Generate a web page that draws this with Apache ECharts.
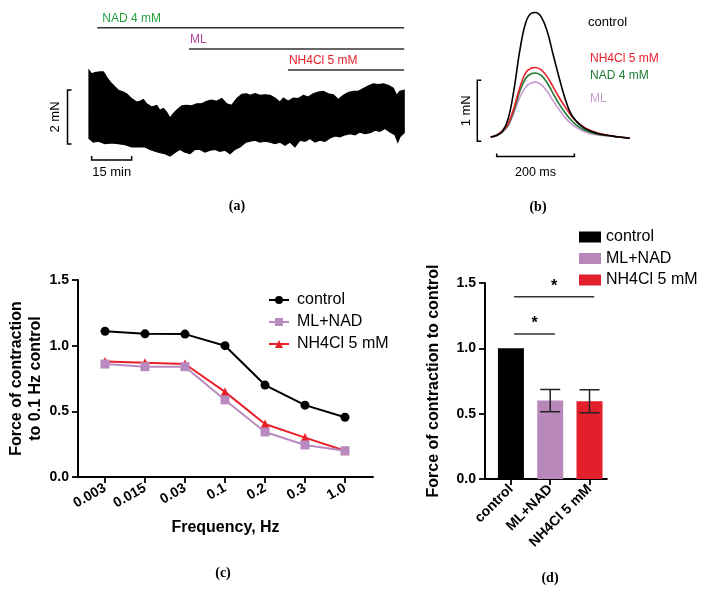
<!DOCTYPE html>
<html><head><meta charset="utf-8">
<script src="https://cdn.jsdelivr.net/npm/echarts@6/dist/echarts.min.js"></script>
<style>html,body{margin:0;padding:0;background:#fff}#c{width:712px;height:591px}</style>
</head><body><div id="c"></div>
<script>
// ---------- Panel (a): long recording, envelope of the contraction trace (min, mN)
const traceTopT = [0,1.0,2.25,4.1,5.4,6.6,7.9,9.75,11.0,12.9,14.1,16.0,17.9,19.1,20.4,21.6,23.5,25.4,26.6,27.9,29.1,30.4,31.6,32.9,34.8,36.6,38.5,40.4,42.3,44.1,46.0,47.9,49.8,51.6,53.5,55.4,57.3,59.1,60.4,62.3,64.1,66.0,67.9,69.75,71.6,72.9,74.7,76.6,78.5,80.4,82.2,84.1,86.0,87.9,89.7,91.6,93.5,95.4,97.2,99.1,101.0,102.9,104.7,106.6,108.5,110.4,112.2,114.1,115.4,116.6,118.2];
const traceTopF = [3.62,3.49,3.53,3.56,3.56,3.37,3.19,3.0,2.88,2.81,2.75,2.57,2.44,2.47,2.54,2.38,2.26,2.32,2.14,2.20,2.07,1.85,2.01,2.14,2.30,2.32,2.30,2.38,2.38,2.47,2.51,2.47,2.57,2.38,2.32,2.57,2.73,2.75,2.69,2.75,2.69,2.71,2.69,2.59,2.44,2.59,2.47,2.59,2.57,2.69,2.63,2.75,2.81,2.84,2.75,2.71,2.54,2.69,2.79,2.84,2.84,2.94,3.04,3.12,3.09,3.12,3.06,2.96,2.69,2.84,2.88];
const traceBotT = [0,1.6,3.5,6.0,8.5,11.0,13.5,16.0,18.5,21.0,22.9,24.75,26.6,28.5,30.4,32.25,34.1,36.0,37.9,39.75,41.6,43.5,45.4,47.25,49.1,51.0,52.9,54.75,56.6,58.9,60.4,62.25,64.1,66.0,67.9,69.75,71.6,73.5,75.4,77.25,79.1,81.0,82.9,84.75,86.6,88.5,90.4,92.25,94.1,96.0,97.9,99.75,101.6,103.5,105.4,107.25,109.1,111.0,112.9,114.75,115.8,116.6,118.2];
const traceBotF = [1.09,0.96,0.99,0.90,0.93,0.90,0.86,0.78,0.78,0.78,0.69,0.62,0.57,0.53,0.44,0.57,0.69,0.59,0.53,0.69,0.69,0.59,0.66,0.69,0.62,0.66,0.53,0.69,0.78,0.96,0.99,1.03,0.96,0.99,0.96,0.90,0.96,0.84,0.96,0.78,1.03,0.99,1.09,0.96,1.03,0.99,1.11,1.19,1.15,1.23,1.27,1.23,1.33,1.27,1.31,1.40,1.36,1.46,1.33,1.23,0.96,1.15,1.31];
const treatmentNames = ['NAD 4 mM','ML','NH4Cl 5 mM'];
const treatmentStart = [3.1, 37.5, 74.6];
const treatmentEnd = 118.2;
const scaleA = [2, 15];          // 2 mN, 15 min

// ---------- Panel (b): averaged twitches (ms, mN)
const twitchT = [0,15,30,45,60,75,90,105,115,130,145,160,175,190,205,220,240,260,280,300,330,358];
const twitchControl = [0,0.03,0.09,0.30,0.78,1.42,1.87,2.03,2.04,1.97,1.74,1.37,1.0,0.66,0.40,0.26,0.15,0.09,0.05,0.03,0.0,-0.02];
const twitchNH4 = [0,0.03,0.10,0.22,0.48,0.81,1.05,1.13,1.14,1.10,0.99,0.83,0.66,0.51,0.37,0.26,0.16,0.10,0.055,0.03,0.0,-0.02];
const twitchNAD = [0,0.02,0.09,0.20,0.44,0.75,0.96,1.04,1.05,1.01,0.89,0.72,0.55,0.41,0.29,0.20,0.12,0.07,0.04,0.02,0.0,-0.02];
const twitchML = [0,0.02,0.08,0.18,0.40,0.65,0.82,0.89,0.90,0.86,0.75,0.60,0.46,0.33,0.23,0.16,0.09,0.05,0.03,0.02,0.0,-0.02];
const scaleB = [1, 200];         // 1 mN, 200 ms

// ---------- Panel (c): force-frequency
const freqLabels = ['0.003','0.015','0.03','0.1','0.2','0.3','1.0'];
const ffControl = [1.11,1.09,1.088,1.0,0.70,0.547,0.455];
const ffMLNAD = [0.86,0.84,0.84,0.587,0.343,0.244,0.20];
const ffNH4 = [0.88,0.87,0.86,0.648,0.404,0.30,0.20];

// ---------- Panel (d): bars
const barCats = ['control','ML+NAD','NH4Cl 5 mM'];
const barMean = [1.0, 0.60, 0.595];
const barErr = [0, 0.085, 0.088];
const sigPairs = [[0,2],[0,1]];

const FONT = 'Liberation Sans, Arial, sans-serif';
const C_GREEN_A = '#26a040', C_MAG_A = '#b8409e', C_RED = '#e8202a';
const C_GREEN_B = '#1f7a34', C_PURP_B = '#c89ad2', C_LILAC = '#b98abf', C_BAR_RED = '#e21f2b';

const chart = echarts.init(document.getElementById('c'), null, {renderer:'canvas'});
const zip = (a,b) => a.map((v,i)=>[v,b[i]]);
const idx = freqLabels.map((_,i)=>i);

function axisCommon(){
  return {
    axisLine:{show:true, onZero:false, lineStyle:{color:'#000', width:2}},
    axisTick:{show:true, length:6, lineStyle:{color:'#000', width:1.8}},
    splitLine:{show:false}
  };
}

const option = {
  animation:false,
  textStyle:{fontFamily:FONT},
  grid:[
    {left:57, top:10, width:347.7, height:158},
    {left:475.16, top:8.9, width:155.4, height:158.6},
    {left:78, top:280, width:295, height:197},
    {left:485, top:283, width:121.8, height:196}
  ],
  xAxis:[
    {gridIndex:0, type:'value', min:-12, max:118.4, show:false},
    {gridIndex:1, type:'value', min:-40, max:360, show:false},
    Object.assign(axisCommon(), {gridIndex:2, type:'value', min:-0.675, max:6.7,
      axisTick:{show:true, length:6, customValues:idx, lineStyle:{color:'#000', width:1.8}},
      axisLabel:{customValues:idx, rotate:30, margin:10, color:'#000', fontWeight:'bold', fontSize:14,
        formatter:v=>freqLabels[Math.round(v)]},
      name:'Frequency, Hz', nameLocation:'middle', nameGap:43,
      nameTextStyle:{color:'#000', fontWeight:'bold', fontSize:16}}),
    Object.assign(axisCommon(), {gridIndex:3, type:'value', min:-0.66, max:2.44,
      axisTick:{show:true, length:6, customValues:[0,1,2], lineStyle:{color:'#000', width:1.8}},
      axisLabel:{customValues:[0,1,2], rotate:45, margin:8, color:'#000', fontWeight:'bold', fontSize:14,
        formatter:v=>barCats[Math.round(v)]}})
  ],
  yAxis:[
    {gridIndex:0, type:'value', min:0, max:5.852, show:false},
    {gridIndex:1, type:'value', min:-0.5, max:2.1, show:false},
    Object.assign(axisCommon(), {gridIndex:2, type:'value', min:0, max:1.5, interval:0.5,
      axisLabel:{color:'#000', fontWeight:'bold', fontSize:14, margin:9, formatter:v=>v.toFixed(1)},
      name:'Force of contraction\nto 0.1 Hz control', nameLocation:'middle', nameGap:33,
      nameTextStyle:{color:'#000', fontWeight:'bold', fontSize:16, lineHeight:19}}),
    Object.assign(axisCommon(), {gridIndex:3, type:'value', min:0, max:1.5, interval:0.5,
      axisLabel:{color:'#000', fontWeight:'bold', fontSize:14, margin:9, formatter:v=>v.toFixed(1)},
      name:'Force of contraction to control', nameLocation:'middle', nameGap:43,
      nameTextStyle:{color:'#000', fontWeight:'bold', fontSize:16}})
  ],
  legend:[
    {data:['control','ML+NAD','NH4Cl 5 mM'], orient:'vertical', left:263, top:287,
      itemWidth:20, itemHeight:10, itemGap:6, selectedMode:false,
      textStyle:{fontSize:16, color:'#000', padding:[0,0,0,3]}},
    {data:barCats.map(n=>'d:'+n), formatter:n=>n.slice(2), icon:'rect', orient:'vertical', left:574, top:224,
      itemWidth:22, itemHeight:11, itemGap:5.5, selectedMode:false,
      textStyle:{fontSize:16, color:'#000', padding:[0,0,0,0]}}
  ],
  series:[
    // ---- (a) trace band drawn as one polygon through the axis scales
    {type:'custom', xAxisIndex:0, yAxisIndex:0, z:2, silent:true, data:[[0,0]],
      renderItem:(params, api)=>{
        const top = traceTopT.map((t,i)=>api.coord([t, traceTopF[i]]));
        const bot = traceBotT.map((t,i)=>api.coord([t, traceBotF[i]])).reverse();
        return {type:'polygon', shape:{points:top.concat(bot)}, style:{fill:'#000', stroke:'#000', lineWidth:1.2}};
      }},
    {type:'custom', xAxisIndex:0, yAxisIndex:0, z:6, silent:true,
      data:treatmentStart.map((s,i)=>[s, treatmentEnd, i]),
      renderItem:(params, api)=>{
        const i = api.value(2);
        const level = 5.19 - i*0.78;
        const p0 = api.coord([api.value(0), level]), p1 = api.coord([api.value(1), level]);
        const cols = [C_GREEN_A, C_MAG_A, C_RED];
        return {type:'group', children:[
          {type:'line', shape:{x1:p0[0], y1:p0[1], x2:p1[0], y2:p1[1]}, style:{stroke:'#333', lineWidth:1.5}},
          {type:'text', x:p0[0] + (i===0?5:1), y:p0[1]-3, style:{text:treatmentNames[i], fill:cols[i],
            font:'12px '+FONT, align:'left', verticalAlign:'bottom'}}
        ]};
      }},
    {type:'custom', xAxisIndex:0, yAxisIndex:0, z:6, silent:true, data:[scaleA],
      renderItem:(params, api)=>{
        const mn = api.value(0), mins = api.value(1);
        const v0 = api.coord([-8.06, 0.89]), v1 = api.coord([-8.06, 0.89+mn]);
        const h0 = api.coord([1.0, 0.30]), h1 = api.coord([1.0+mins, 0.30]);
        const st = {stroke:'#000', lineWidth:1.5, fill:null};
        return {type:'group', children:[
          {type:'polyline', shape:{points:[[v1[0]+4,v1[1]],[v1[0],v1[1]],[v0[0],v0[1]],[v0[0]+4,v0[1]]]}, style:st},
          {type:'polyline', shape:{points:[[h0[0],h0[1]-4],[h0[0],h0[1]],[h1[0],h1[1]],[h1[0],h1[1]-4]]}, style:st},
          {type:'text', x:v0[0]-12.5, y:(v0[1]+v1[1])/2, rotation:Math.PI/2,
            style:{text:mn+' mN', fill:'#000', font:'13px '+FONT, align:'center', verticalAlign:'middle'}},
          {type:'text', x:(h0[0]+h1[0])/2, y:h0[1]+13, style:{text:mins+' min', fill:'#000', font:'13px '+FONT, align:'center', verticalAlign:'middle'}}
        ]};
      }},
    // ---- (b)
    {type:'line', xAxisIndex:1, yAxisIndex:1, data:zip(twitchT, twitchML), symbol:'none', smooth:0.4, z:2,
      lineStyle:{color:C_PURP_B, width:1.6}},
    {type:'line', xAxisIndex:1, yAxisIndex:1, data:zip(twitchT, twitchNAD), symbol:'none', smooth:0.4, z:3,
      lineStyle:{color:C_GREEN_B, width:1.6}},
    {type:'line', xAxisIndex:1, yAxisIndex:1, data:zip(twitchT, twitchNH4), symbol:'none', smooth:0.4, z:4,
      lineStyle:{color:C_RED, width:1.6}},
    {type:'line', xAxisIndex:1, yAxisIndex:1, data:zip(twitchT, twitchControl), symbol:'none', smooth:0.4, z:5,
      lineStyle:{color:'#000', width:1.6}},
    {type:'custom', xAxisIndex:1, yAxisIndex:1, z:6, silent:true, data:[scaleB],
      renderItem:(params, api)=>{
        const mn = api.value(0), ms = api.value(1);
        const v0 = api.coord([-34.5, -0.07]), v1 = api.coord([-34.5, -0.07+mn]);
        const h0 = api.coord([15.4, -0.32]), h1 = api.coord([15.4+ms, -0.32]);
        const st = {stroke:'#000', lineWidth:1.5, fill:null};
        return {type:'group', children:[
          {type:'polyline', shape:{points:[[v1[0]+4,v1[1]],[v1[0],v1[1]],[v0[0],v0[1]],[v0[0]+4,v0[1]]]}, style:st},
          {type:'polyline', shape:{points:[[h0[0],h0[1]-3],[h0[0],h0[1]],[h1[0],h1[1]],[h1[0],h1[1]-3]]}, style:st},
          {type:'text', x:v0[0]-10.5, y:(v0[1]+v1[1])/2, rotation:Math.PI/2,
            style:{text:mn+' mN', fill:'#000', font:'13px '+FONT, align:'center', verticalAlign:'middle'}},
          {type:'text', x:(h0[0]+h1[0])/2, y:h0[1]+16, style:{text:ms+' ms', fill:'#000', font:'12.5px '+FONT, align:'center', verticalAlign:'middle'}}
        ]};
      }},
    // ---- (c)
    {name:'control', type:'line', xAxisIndex:2, yAxisIndex:2, data:zip(idx, ffControl), z:5,
      symbol:'circle', symbolSize:9, lineStyle:{color:'#000', width:2}, itemStyle:{color:'#000'}},
    {name:'NH4Cl 5 mM', type:'line', xAxisIndex:2, yAxisIndex:2, data:zip(idx, ffNH4), z:3,
      symbol:'triangle', symbolSize:9, lineStyle:{color:C_RED, width:2}, itemStyle:{color:C_RED}},
    {name:'ML+NAD', type:'line', xAxisIndex:2, yAxisIndex:2, data:zip(idx, ffMLNAD), z:4,
      symbol:'rect', symbolSize:9, lineStyle:{color:C_LILAC, width:2}, itemStyle:{color:C_LILAC}},
    // ---- (d)
    ...barCats.map((n,i)=>({name:'d:'+n, type:'bar', xAxisIndex:3, yAxisIndex:3, barWidth:26, barGap:'-100%',
      data:[[i, barMean[i]]], itemStyle:{color:['#000', '#b988bb', C_BAR_RED][i]}})),
    {type:'custom', xAxisIndex:3, yAxisIndex:3, z:10, silent:true,
      data:barMean.map((m,i)=>[i, m-barErr[i], m+barErr[i]]).filter((d,i)=>barErr[i]>0),
      renderItem:(params, api)=>{
        const x = api.value(0);
        const lo = api.coord([x, api.value(1)]), hi = api.coord([x, api.value(2)]);
        const w = 10, st = {stroke:'#222', lineWidth:1.5};
        return {type:'group', children:[
          {type:'line', shape:{x1:lo[0], y1:lo[1], x2:hi[0], y2:hi[1]}, style:st},
          {type:'line', shape:{x1:lo[0]-w, y1:lo[1], x2:lo[0]+w, y2:lo[1]}, style:st},
          {type:'line', shape:{x1:hi[0]-w, y1:hi[1], x2:hi[0]+w, y2:hi[1]}, style:st}
        ]};
      }},
    {type:'custom', xAxisIndex:3, yAxisIndex:3, z:10, silent:true, data:sigPairs,
      renderItem:(params, api)=>{
        const a = api.value(0), b = api.value(1);
        const level = 1.11 + (b-1)*0.285;
        const p0 = api.coord([a+0.08, level]), p1 = api.coord([b+0.12, level]);
        return {type:'group', children:[
          {type:'line', shape:{x1:p0[0], y1:p0[1], x2:p1[0], y2:p1[1]}, style:{stroke:'#333', lineWidth:1.5}},
          {type:'text', x:(p0[0]+p1[0])/2, y:p0[1]-10, style:{text:'*', fill:'#000', font:'bold 16px '+FONT, align:'center', verticalAlign:'middle'}}
        ]};
      }}
  ],
  graphic:[
    ...[['control','#000',588,22,13],['NH4Cl 5 mM',C_RED,590,59,12],['NAD 4 mM',C_GREEN_B,590,76,12],['ML',C_PURP_B,590,98.7,12]]
      .map(([t,c,x,y,s])=>({type:'text', x, y, silent:true, style:{text:t, fill:c, font:s+'px '+FONT, align:'left', verticalAlign:'middle'}})),
    ...[['(a)',237,206],['(b)',538,207],['(c)',223,573],['(d)',550,578]]
      .map(([t,x,y])=>({type:'text', x, y, silent:true, style:{text:t, fill:'#000', font:'bold 14px "Liberation Serif", serif', align:'center', verticalAlign:'middle'}}))
  ]
};
chart.setOption(option);
</script></body></html>
